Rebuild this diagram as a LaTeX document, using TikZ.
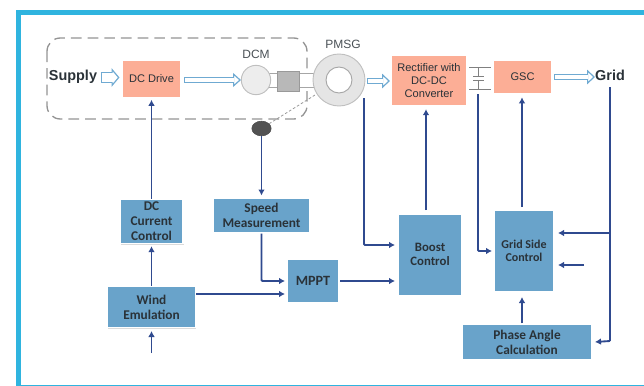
\documentclass[tikz,border=0pt]{standalone}
\usepackage{fontspec}
\setmainfont{Liberation Sans}
\newfontfamily\blockfont{Carlito}
\usetikzlibrary{arrows.meta,shadows,shapes.geometric}

\definecolor{framecyan}{HTML}{2FB4DF}
\definecolor{blockblue}{HTML}{69A3CA}
\definecolor{driveorange}{HTML}{FCAE96}
\definecolor{signalblue}{HTML}{2F4A8F}
\definecolor{powerblue}{HTML}{6FAAD2}
\definecolor{textdark}{HTML}{2A3238}

\tikzset{every picture/.style={line width=0.45pt}}
\tikzset{
  softshadow/.style={drop shadow={shadow xshift=0.5pt,shadow yshift=-0.8pt,opacity=0.14,fill=black}},
  ctrlblock/.style={draw=white,line width=1pt,fill=blockblue,softshadow,inner sep=0pt,align=center,text=textdark,font=\blockfont\bfseries\fontsize{10}{11.2}\selectfont},
  powerblock/.style={draw=white,line width=1pt,fill=driveorange,softshadow,inner sep=0pt,align=center,text=textdark,font=\fontsize{8.3}{10}\selectfont},
  signal/.style={draw=signalblue,line width=1.4pt,-{Latex[length=4.5pt,width=5pt]},rounded corners=0.8pt},
  signalline/.style={draw=signalblue,line width=1.4pt},
  power/.style 2 args={draw=powerblue,line width=#1,-{Triangle[open,fill=white,color=powerblue,line width=0.9pt,length=6pt,width=#2]},
    postaction={draw=white,line width=#1-1.8pt,-,shorten >=5.2pt,shorten <=0.9pt}},
  machlabel/.style={text=textdark!85,font=\small,inner sep=0pt},
  gridlabel/.style={text=textdark,font=\bfseries\fontsize{10.8}{12}\selectfont,inner sep=0pt}
}

\begin{document}
\begin{tikzpicture}[x=0.75pt,y=0.75pt,yscale=-1,xscale=1]
\useasboundingbox (0,0) rectangle (644,386);

%Frame
\fill [framecyan] (16,10) rectangle (644,15);
\fill [framecyan] (16,10) rectangle (21,386);
\fill [framecyan] (16,384.5) rectangle (644,386);

%Dashed enclosure
\draw [draw=black!42,line width=1pt,dash pattern={on 8pt off 4.5pt},rounded corners=10pt] (47,38) rectangle (307,119);

%Shafts
\draw [draw=black!35,fill=white,line width=0.6pt] (268,73.5) rectangle (316,87);

%Machines
\node (dcm) [circle,draw=black!25,fill=black!7,line width=0.7pt,minimum size=22pt,inner sep=0pt] at (256,80) {};
\node (coupling) [draw=black!40,fill=black!28,line width=0.6pt,minimum width=17pt,minimum height=15pt,inner sep=0pt] at (288.5,81) {};
\node (pmsg) [circle,draw=black!25,fill=black!10,line width=0.7pt,minimum size=39pt,inner sep=0pt] at (339,80) {};
\node (rotor) [circle,draw=black!35,fill=white,line width=0.7pt,minimum size=19.5pt,inner sep=0pt] at (339,80) {};
\node (sensor) [ellipse,draw=black!70,fill=black!68,minimum width=14.5pt,minimum height=11pt,inner sep=0pt] at (261.5,128.5) {};
\draw [draw=black!40,line width=0.6pt,dash pattern={on 2pt off 1.5pt}] (sensor) -- (pmsg);

% Text Node
\node (dcmlabel) [machlabel] at (256,54) {DCM};
\node (pmsglabel) [machlabel] at (343,44) {PMSG};
\node (supply) [gridlabel] at (73,77) {Supply};
\node (grid) [gridlabel] at (610,75) {Grid};

%Power blocks
\node (drive) [powerblock,minimum width=44pt,minimum height=28pt] at (151.5,78.5) {DC Drive};
\node (rectifier) [powerblock,minimum width=57pt,minimum height=38pt] at (429,80.5) {Rectifier with\\DC-DC\\Converter};
\node (gsc) [powerblock,minimum width=44pt,minimum height=25.5pt] at (522.5,77) {GSC};

%Control blocks
\node (current) [ctrlblock,minimum width=47pt,minimum height=33pt] at (151.5,221.5) {DC\\Current\\Control};
\node (speed) [ctrlblock,minimum width=72pt,minimum height=26pt] at (261.5,215.5) {Speed\\Measurement};
\node (wind) [ctrlblock,minimum width=66pt,minimum height=31pt] at (151.5,307) {Wind\\Emulation};
\node (mppt) [ctrlblock,minimum width=38pt,minimum height=32pt,font=\blockfont\bfseries\fontsize{10.6}{12}\selectfont] at (313,281) {MPPT};
\node (boost) [ctrlblock,minimum width=48pt,minimum height=61pt,font=\blockfont\bfseries\fontsize{9.6}{10}\selectfont] at (430,254.5) {Boost\\Control};
\node (gridside) [ctrlblock,minimum width=44pt,minimum height=61pt,font=\blockfont\bfseries\fontsize{9}{10}\selectfont] at (524,250.5) {Grid Side\\Control};
\node (phase) [ctrlblock,minimum width=97pt,minimum height=27pt] at (527,342) {Phase Angle\\Calculation};

%DC link capacitor
\coordinate (linktop) at (478.5,67);
\coordinate (linkbot) at (478.5,89);
\draw [draw=black!50,line width=0.6pt] (469,67) -- (491,67);
\draw [draw=black!50,line width=0.6pt] (469,89) -- (491,89);
\draw [draw=black!50,line width=0.6pt] (linktop) -- (478.5,76);
\draw [draw=black!50,line width=0.6pt] (478.5,80.5) -- (linkbot);
\draw [draw=black!50,line width=0.6pt] (473,76) -- (484,76);
\draw [draw=black!50,line width=0.6pt] (473,80.5) -- (484,80.5);

%Power arrows
\draw [power={8pt}{14pt}] (100.5,77.5) -- (119.5,77.5);
\draw [power={4.5pt}{10.5pt}] (184,80) -- (241,80);
\draw [power={5pt}{11pt}] (366.5,81) -- (390,81);
\draw [power={5pt}{11pt}] (554,77) -- (595,77);

%Free ends of the signals
\coordinate (windin) at (151.5,353);
\coordinate (freein) at (584,265);
\coordinate (gridtap) at (610,87);
\coordinate (gridjoin) at (610,233);
\coordinate (gridend) at (610,341);
\coordinate (pmsgtap) at (364,98);
\coordinate (linktap) at (478,94);

%Signal arrows
\draw [signal] (current.north) -- ([yshift=1.5pt]drive.south);
\draw [signal] (sensor.south) -- ([yshift=-1.5pt]speed.north);
\draw [signal] (wind.north) -- ([yshift=1.5pt]current.south);
\draw [signal] (windin) -- ([yshift=2pt]wind.south);
\draw [signal] (wind.east |- 0,294) -- (285,294);
\draw [signal] (speed.south) |- (285,281);
\draw [signal] (mppt.east) ++(1,0) -- (395,281);
\draw [signal] (pmsgtap) |- (395,245);
\draw [signal] (426,210) -- ([yshift=2pt]rectifier.south -| 426,0);
\draw [signal] (linktap) |- (492,251);
\draw [signal] (522,207) -- ([yshift=2pt]gsc.south -| 522,0);
\draw [signal] (phase.north -| 522,0) -- (522,297);
\draw [signalline] (gridtap) -- (gridend);
\draw [signal] (gridend) -- ([xshift=2pt]phase.east);
\draw [signal] (gridjoin) -- (558,233);
\draw [signal] (freein) -- (558,265);

\end{tikzpicture}
\end{document}
